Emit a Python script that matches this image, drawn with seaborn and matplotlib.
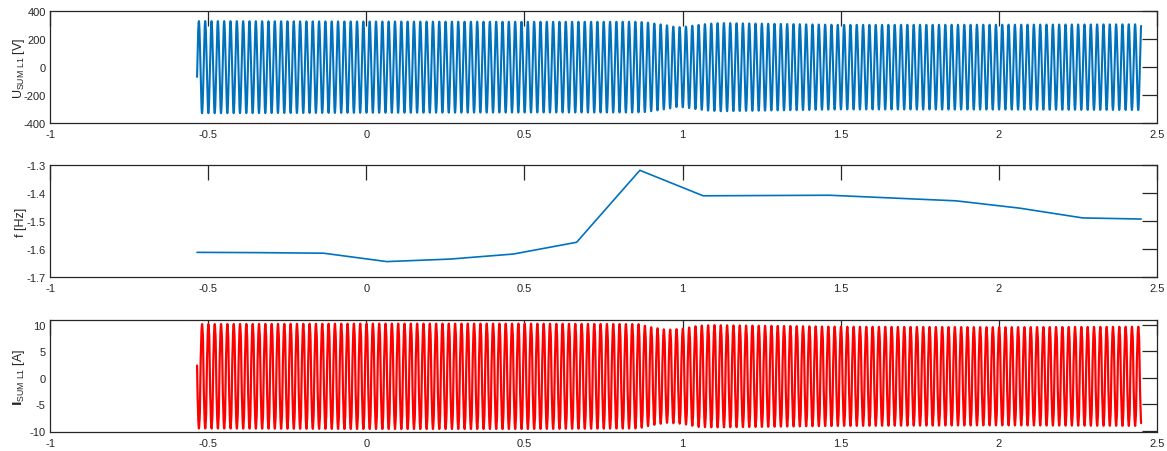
import numpy as np
import pandas as pd
import matplotlib
matplotlib.use("Agg")
import matplotlib.pyplot as plt
import seaborn as sns

# ---------------- data ----------------
t_start, t_end = -0.535, 2.45          # s, recording span
f_nominal = 50.0                        # Hz, grid frequency of waveforms
fs = 5000                               # samples per second

# voltage amplitude envelope (V)
u_env_t = [-0.535, 0.0, 0.5, 0.85, 0.88, 0.92, 0.96, 0.98, 1.0, 1.04, 1.08, 1.12, 1.3, 1.5, 2.0, 2.45]
u_env_a = [330, 327, 325, 325, 322, 310, 296, 286, 288, 300, 311, 316, 310, 303, 304, 307]
u_start_value = -70                     # V, first sample (rising)

# current amplitude envelope (A)
i_env_t = [-0.535, 0.0, 0.5, 0.86, 0.90, 0.95, 1.0, 1.05, 1.1, 1.5, 2.0, 2.45]
i_env_a = [10.1, 10.2, 10.2, 10.1, 9.5, 9.0, 9.2, 9.8, 9.9, 9.6, 9.5, 9.6]
i_offset = 0.25
i_harm_order = [3, 5, 7]
i_harm_rel = [0.06, 0.035, 0.02]
i_harm_phase = [0.6, 1.2, 2.0]

# frequency deviation (Hz)
f_t = [-0.535, -0.335, -0.135, 0.065, 0.265, 0.465, 0.665, 0.865, 1.065, 1.265, 1.465, 1.665, 1.865, 2.065, 2.265, 2.45]
f_v = [-1.612, -1.613, -1.615, -1.645, -1.636, -1.618, -1.576, -1.319, -1.410, -1.409, -1.408, -1.418, -1.428, -1.454, -1.489, -1.493]

x_ticks = [-1, -0.5, 0, 0.5, 1, 1.5, 2, 2.5]
x_ticklabels = ["-1", "-0.5", "0", "0.5", "1", "1.5", "2", "2.5"]
u_ticks = [-400, -200, 0, 200, 400]
f_ticks = [-1.7, -1.6, -1.5, -1.4, -1.3]
f_ticklabels = ["-1.7", "-1.6", "-1.5", "-1.4", "-1.3"]
i_ticks = [-10, -5, 0, 5, 10]

# ---------------- build sampled waveforms ----------------
t = np.arange(t_start, t_end, 1.0 / fs)
phi0 = np.arcsin(u_start_value / u_env_a[0])
phase = 2 * np.pi * f_nominal * (t - t_start) + phi0
u = np.interp(t, u_env_t, u_env_a) * np.sin(phase)
shape = np.sin(phase)
for n, r, p in zip(i_harm_order, i_harm_rel, i_harm_phase):
    shape = shape + r * np.sin(n * phase + p)
i = -np.interp(t, i_env_t, i_env_a) * shape + i_offset

df_u = pd.DataFrame({"t": t, "u": u})
df_i = pd.DataFrame({"t": t, "i": i})
df_f = pd.DataFrame({"t": f_t, "f": f_v})

# ---------------- plotting ----------------
sns.set_theme(style="white")
plt.rcParams["font.family"] = ["Liberation Sans", "DejaVu Sans"]
plt.rcParams["mathtext.fontset"] = "custom"
plt.rcParams["mathtext.rm"] = "Liberation Sans"
plt.rcParams["mathtext.bf"] = "DejaVu Sans:bold"
plt.rcParams["axes.unicode_minus"] = False

W, H = 1167, 452
fig = plt.figure(figsize=(W / 100, H / 100), dpi=100)
fig.patch.set_facecolor("white")

def rect(l, r, top, bot):
    return [l / W, 1 - bot / H, (r - l) / W, (bot - top) / H]

ax_u = fig.add_axes(rect(50, 1157, 12.3, 124))
ax_f = fig.add_axes(rect(50, 1157, 166, 278))
ax_i = fig.add_axes(rect(50, 1157, 321.3, 433.3))

dark = "#262626"
sns.lineplot(data=df_u, x="t", y="u", ax=ax_u, color="#0072BD", lw=1.5,
             estimator=None, errorbar=None, sort=False)
sns.lineplot(data=df_f, x="t", y="f", ax=ax_f, color="#0072BD", lw=1.2,
             estimator=None, errorbar=None, sort=False)
sns.lineplot(data=df_i, x="t", y="i", ax=ax_i, color="#FF0000", lw=1.6,
             estimator=None, errorbar=None, sort=False)

ax_u.set_ylim(-400, 400)
ax_u.set_yticks(u_ticks)
ax_f.set_ylim(-1.7, -1.3)
ax_f.set_yticks(f_ticks)
ax_f.set_yticklabels(f_ticklabels)
ax_i.set_ylim(-10.3, 10.8)
ax_i.set_yticks(i_ticks)

ax_u.set_ylabel(r"U$_{\mathrm{SUM\ L1}}$ [V]", fontsize=9, color=dark)
ax_f.set_ylabel("f [Hz]", fontsize=9, color=dark)
ax_i.set_ylabel(r"$\mathbf{I}_{\mathrm{SUM\ L1}}$ [A]", fontsize=9, color=dark)

for ax in (ax_u, ax_f, ax_i):
    ax.set_xlim(-1, 2.5)
    ax.set_xticks(x_ticks)
    ax.set_xticklabels(x_ticklabels)
    ax.set_xlabel("")
    ax.set_facecolor("white")
    ax.grid(False)
    for s in ax.spines.values():
        s.set_visible(True)
        s.set_color(dark)
        s.set_linewidth(0.9)
    ax.tick_params(axis="both", direction="in", length=11, width=0.9, color=dark,
                   top=True, right=True, labelsize=8, labelcolor=dark)
    ax.tick_params(axis="x", pad=4)
    ax.tick_params(axis="y", pad=3)
    ax.yaxis.set_label_coords(-0.021, 0.5)

fig.savefig("out.png", dpi=100, facecolor="white")
